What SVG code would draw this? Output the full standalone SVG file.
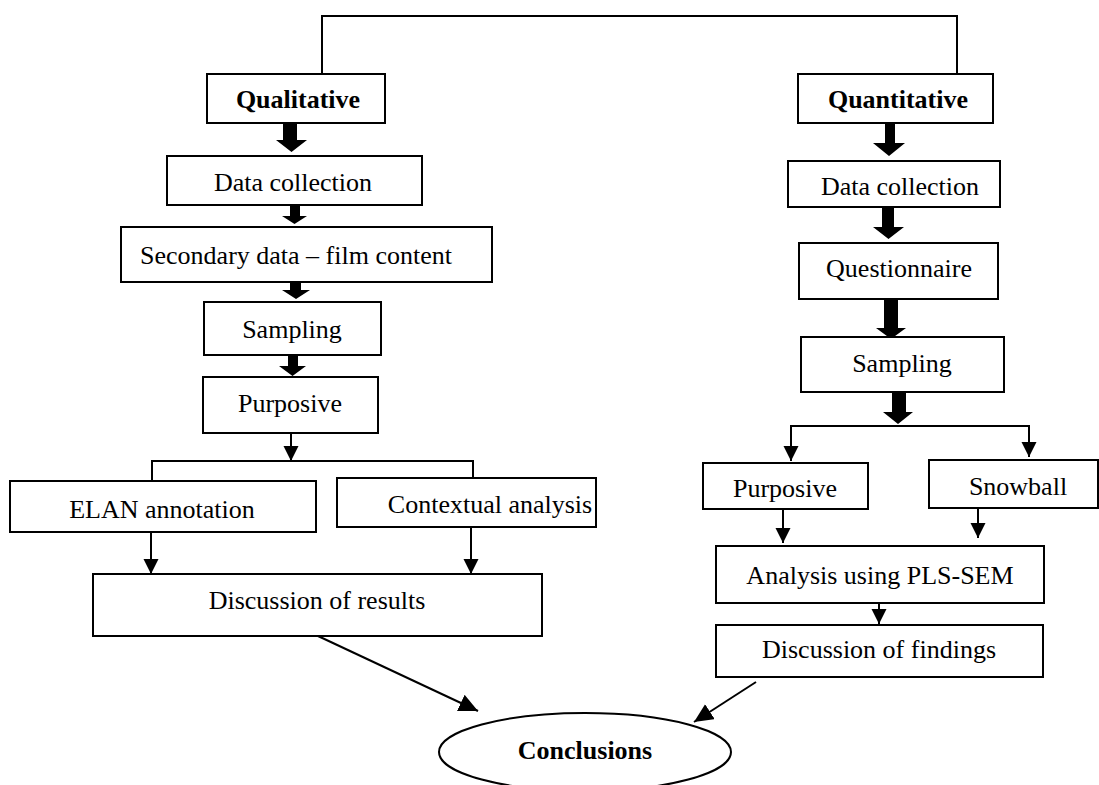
<svg xmlns="http://www.w3.org/2000/svg" width="1099" height="785" viewBox="0 0 1099 785">
<style>
.box{fill:#fff;stroke:#000;stroke-width:2}
.t{font-family:"Liberation Serif","Times New Roman",serif;font-size:26px;fill:#000;text-anchor:middle}
.b{font-weight:bold}
.ln{fill:none;stroke:#000;stroke-width:2}
.blk{fill:#000;stroke:none}
</style>
<defs>
<marker id="ah" markerUnits="userSpaceOnUse" markerWidth="16" markerHeight="16" viewBox="0 0 16 16" refX="15" refY="7.5" orient="auto">
<path d="M0,0 L15,7.5 L0,15 z" fill="#000"/>
</marker>
<marker id="ahL" markerUnits="userSpaceOnUse" markerWidth="20" markerHeight="20" viewBox="0 0 20 20" refX="19" refY="9" orient="auto">
<path d="M0,0 L19,9 L0,18 z" fill="#000"/>
</marker>
</defs>
<rect width="1099" height="785" fill="#fff"/>

<g id="connectors">
<polyline class="ln" points="322,74 322,16 957,16 957,74"/>
<polygon class="blk" points="283,123 297,123 297,140 307,140 291.5,152 276,140 283,140"/>
<polygon class="blk" points="290,205 300,205 300,216 307,216 294.5,224 282,216 290,216"/>
<polygon class="blk" points="290,282 301,282 301,290 310,290 296,299 282,290 290,290"/>
<polygon class="blk" points="288,355 298,355 298,366 306,366 292.5,376 279,366 288,366"/>
<line class="ln" x1="291" y1="433" x2="291" y2="461" marker-end="url(#ah)"/>
<polyline class="ln" points="152,481 152,461 473,461 473,478"/>
<line class="ln" x1="151" y1="532" x2="151" y2="574" marker-end="url(#ah)"/>
<line class="ln" x1="471" y1="527" x2="471" y2="574" marker-end="url(#ah)"/>
<line class="ln" x1="318" y1="636" x2="478" y2="711" marker-end="url(#ahL)"/>
<polygon class="blk" points="885,123 895,123 895,143 905,143 889,156 873,143 885,143"/>
<polygon class="blk" points="882,207 894,207 894,227 904,227 888.5,239 873,227 882,227"/>
<polygon class="blk" points="884,299 898,299 898,328 906,328 891,339 876,328 884,328"/>
<polygon class="blk" points="892,392 906,392 906,412 913,412 898,424 883,412 892,412"/>
<polyline class="ln" points="791,461 791,426 1029,426 1029,457" marker-end="url(#ah)"/>
<line class="ln" x1="791" y1="440" x2="791" y2="461" marker-end="url(#ah)"/>
<line class="ln" x1="783" y1="509" x2="783" y2="543" marker-end="url(#ah)"/>
<line class="ln" x1="978" y1="508" x2="978" y2="538" marker-end="url(#ah)"/>
<line class="ln" x1="879" y1="603" x2="879" y2="624" marker-end="url(#ah)"/>
<line class="ln" x1="756" y1="682" x2="694" y2="722" marker-end="url(#ahL)"/>
</g>

<g id="qualitative"><rect class="box" x="207" y="74" width="178" height="49"/><text class="t b" x="298" y="108">Qualitative</text></g>
<g id="quantitative"><rect class="box" x="798" y="74" width="195" height="49"/><text class="t b" x="898" y="108">Quantitative</text></g>

<g id="data-collection-left"><rect class="box" x="167" y="156" width="255" height="49"/><text class="t" x="293" y="191">Data collection</text></g>
<g id="secondary-data"><rect class="box" x="121" y="227" width="371" height="55"/><text class="t" x="296" y="264">Secondary data – film content</text></g>
<g id="sampling-left"><rect class="box" x="204" y="302" width="177" height="53"/><text class="t" x="292" y="338">Sampling</text></g>
<g id="purposive-left"><rect class="box" x="203" y="377" width="175" height="56"/><text class="t" x="290" y="412">Purposive</text></g>
<g id="elan"><rect class="box" x="10" y="481" width="306" height="51"/><text class="t" x="162" y="518">ELAN annotation</text></g>
<g id="contextual"><rect class="box" x="337" y="478" width="259" height="49"/><text class="t" x="490" y="513">Contextual analysis</text></g>
<g id="discussion-results"><rect class="box" x="93" y="574" width="449" height="62"/><text class="t" x="317" y="609">Discussion of results</text></g>

<g id="data-collection-right"><rect class="box" x="788" y="161" width="212" height="46"/><text class="t" x="900" y="195">Data collection</text></g>
<g id="questionnaire"><rect class="box" x="799" y="243" width="199" height="56"/><text class="t" x="899" y="277">Questionnaire</text></g>
<g id="sampling-right"><rect class="box" x="801" y="337" width="203" height="55"/><text class="t" x="902" y="372">Sampling</text></g>
<g id="purposive-right"><rect class="box" x="703" y="463" width="165" height="46"/><text class="t" x="785" y="497">Purposive</text></g>
<g id="snowball"><rect class="box" x="929" y="460" width="169" height="48"/><text class="t" x="1018" y="495">Snowball</text></g>
<g id="analysis"><rect class="box" x="716" y="546" width="328" height="57"/><text class="t" x="880" y="584">Analysis using PLS-SEM</text></g>
<g id="discussion-findings"><rect class="box" x="716" y="625" width="327" height="52"/><text class="t" x="879" y="658">Discussion of findings</text></g>

<g id="conclusions"><ellipse class="box" cx="585" cy="752" rx="146" ry="39"/><text class="t b" x="585" y="759">Conclusions</text></g>
</svg>
